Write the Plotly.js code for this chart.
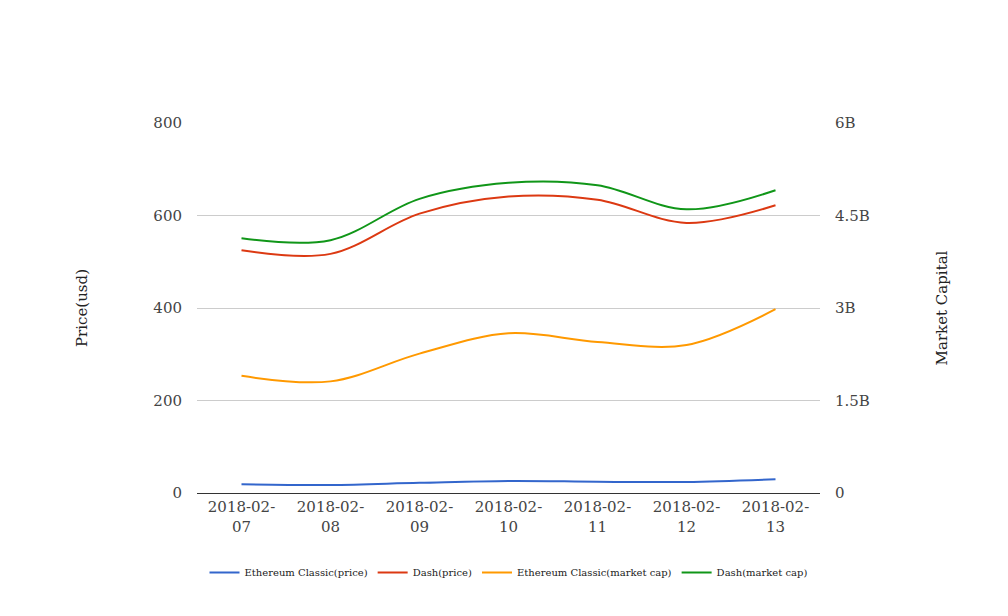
<!DOCTYPE html>
<html>
<head>
<meta charset="utf-8">
<script src="https://cdn.plot.ly/plotly-3.0.1.min.js"></script>
<style>
html,body{margin:0;padding:0;background:#fff;}
#chart{width:1008px;height:616px;}
</style>
</head>
<body>
<div id="chart"></div>
<script>
const dates = ["2018-02-07","2018-02-08","2018-02-09","2018-02-10","2018-02-11","2018-02-12","2018-02-13"];
const dateLabels = ["2018-02-<br>07","2018-02-<br>08","2018-02-<br>09","2018-02-<br>10","2018-02-<br>11","2018-02-<br>12","2018-02-<br>13"];
const etcPrice = [18.7, 17.3, 22, 26, 24.5, 23.8, 29.6];
const dashPrice = [525, 517, 604, 641, 634, 584, 622];
const etcCap = [1.90e9, 1.81e9, 2.26e9, 2.59e9, 2.45e9, 2.40e9, 2.98e9];
const dashCap = [4.13e9, 4.10e9, 4.77e9, 5.03e9, 4.99e9, 4.60e9, 4.91e9];
const capTickVals = [0, 1.5e9, 3e9, 4.5e9, 6e9];
const capTickText = ["0", "1.5B", "3B", "4.5B", "6B"];

const FONT = "DejaVu Serif, serif";
function line(name, y, color, axis){
  return {x: dates, y: y, name: name, type: "scatter", mode: "lines", yaxis: axis,
    line: {color: color, width: 2, shape: "spline", smoothing: 1}, hoverinfo: "x+y+name"};
}
const data = [
  line("Ethereum Classic(price)", etcPrice, "#3366cc", "y"),
  line("Dash(price)", dashPrice, "#dc3912", "y"),
  line("Ethereum Classic(market cap)", etcCap, "#ff9900", "y2"),
  line("Dash(market cap)", dashCap, "#109618", "y2")
];
const layout = {
  width: 1008, height: 616,
  margin: {l: 197, r: 188, t: 123, b: 123},
  paper_bgcolor: "#fff", plot_bgcolor: "#fff",
  font: {family: FONT, size: 15, color: "#444"},
  showlegend: true,
  legend: {orientation: "h", x: 0.5, xanchor: "center", y: -0.215, yanchor: "middle",
    font: {family: FONT, size: 10, color: "#222"}, itemwidth: 30, tracegroupgap: 0},
  xaxis: {type: "category", range: [-0.5, 6.5], tickvals: dates, ticktext: dateLabels,
    showgrid: false, showline: true, linecolor: "#333", linewidth: 1, zeroline: false,
    ticks: "", tickfont: {family: FONT, size: 15, color: "#444"}, automargin: false},
  yaxis: {range: [0, 800], tickvals: [0, 200, 400, 600, 800], showgrid: true, gridcolor: "#cccccc",
    zeroline: false, showline: false, ticks: "", ticklabelstandoff: 14,
    tickfont: {family: FONT, size: 15, color: "#444"}, automargin: false,
    title: {text: "Price(usd)", font: {family: FONT, size: 15, color: "#222"}, standoff: 62}},
  yaxis2: {overlaying: "y", side: "right", range: [0, 6e9], tickvals: capTickVals, ticktext: capTickText,
    showgrid: false, zeroline: false, showline: false, ticks: "", ticklabelstandoff: 14,
    tickfont: {family: FONT, size: 15, color: "#444"}, automargin: false,
    title: {text: "Market Capital", font: {family: FONT, size: 15, color: "#222"}, standoff: 67}}
};
Plotly.newPlot("chart", data, layout, {displayModeBar: false, staticPlot: true});
</script>
</body>
</html>
